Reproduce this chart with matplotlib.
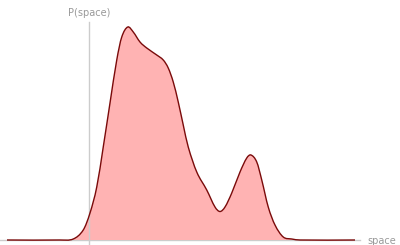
import numpy as np
import matplotlib
matplotlib.use('Agg')
import matplotlib.pyplot as plt
from matplotlib.path import Path
from matplotlib.patches import PathPatch

# density curve (space, P(space))
space = [-3.28, -1.16, -0.63, -0.23, 0.04, 0.31, 0.57, 0.84, 1.11,
         1.31, 1.55, 1.77, 2.04, 2.31, 2.71, 2.97, 3.17, 3.37, 3.57,
         3.77, 3.97, 4.31, 4.71, 5.04, 5.24, 5.44, 5.71, 6.04, 6.31,
         6.48, 6.71, 6.91, 7.17, 7.44, 7.77, 8.11, 8.44, 10.64]
density = [0.000, 0.000, 0.001, 0.010, 0.027, 0.053, 0.093, 0.137, 0.180,
           0.203, 0.213, 0.208, 0.198, 0.192, 0.185, 0.180, 0.172, 0.158, 0.138,
           0.115, 0.093, 0.068, 0.050, 0.033, 0.0285, 0.033, 0.047, 0.068, 0.082,
           0.085, 0.078, 0.060, 0.033, 0.015, 0.003, 0.001, 0.000, 0.000]


def smooth_path(xs, ys):
    # cubic hermite through the points (tangents from neighbours)
    x = np.asarray(xs, float)
    y = np.asarray(ys, float)
    n = len(x)
    m = np.zeros(n)
    for i in range(1, n - 1):
        m[i] = (y[i + 1] - y[i - 1]) / (x[i + 1] - x[i - 1])
    verts = [(x[0], y[0])]
    codes = [Path.MOVETO]
    for i in range(n - 1):
        h = x[i + 1] - x[i]
        verts += [(x[i] + h / 3, y[i] + m[i] * h / 3),
                  (x[i + 1] - h / 3, y[i + 1] - m[i + 1] * h / 3),
                  (x[i + 1], y[i + 1])]
        codes += [Path.CURVE4] * 3
    return verts, codes


fig = plt.figure(figsize=(4, 2.45), dpi=100)
ax = fig.add_axes([0, 0, 1, 1])
ax.set_xlim(-3.56, 12.44)
ax.set_ylim(-0.005, 0.240)
ax.axis('off')

# axes
ax.plot([-3.56, 10.84], [0, 0], color='#cccccc', lw=1, zorder=1)
ax.plot([0, 0], [-0.005, 0.218], color='#cccccc', lw=1, zorder=3)

verts, codes = smooth_path(space, density)
fill_verts = verts + [(space[-1], 0), (space[0], 0), verts[0]]
fill_codes = codes + [Path.LINETO, Path.LINETO, Path.CLOSEPOLY]
ax.add_patch(PathPatch(Path(fill_verts, fill_codes), facecolor='#ffb3b3',
                       edgecolor='none', zorder=2))
ax.add_patch(PathPatch(Path(verts, codes), facecolor='none',
                       edgecolor='#7a0a0a', lw=1, zorder=4))

ax.text(11.12, -0.0005, 'space', color='#999999', fontsize=7, va='center', ha='left')
ax.text(0, 0.2265, 'P(space)', color='#999999', fontsize=7, va='center', ha='center')

fig.savefig('out.png', dpi=100)
